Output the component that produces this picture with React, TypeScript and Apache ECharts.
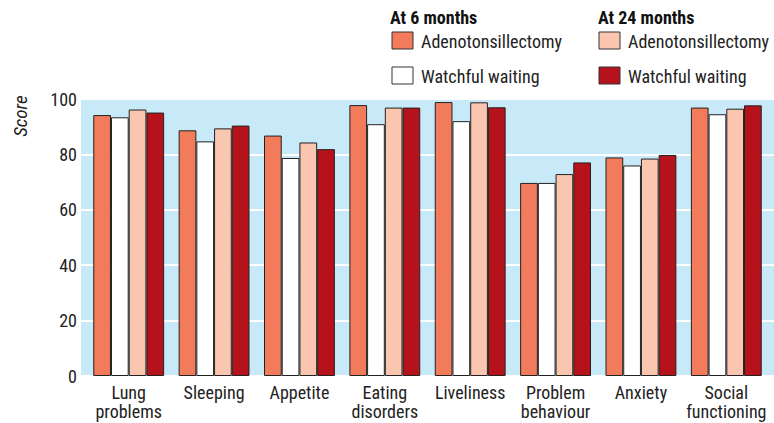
import React, { useEffect, useRef } from "react";
import * as echarts from "echarts";

const categories = [
  "Lung\nproblems",
  "Sleeping",
  "Appetite",
  "Eating\ndisorders",
  "Liveliness",
  "Problem\nbehaviour",
  "Anxiety",
  "Social\nfunctioning",
];
const adeno6 = [94.2, 88.7, 86.8, 97.8, 98.9, 69.7, 78.9, 96.9];
const watch6 = [93.4, 84.7, 78.7, 90.9, 92.0, 69.7, 76.0, 94.5];
const adeno24 = [96.2, 89.4, 84.3, 96.9, 98.8, 72.9, 78.5, 96.5];
const watch24 = [95.1, 90.4, 81.9, 96.9, 97.0, 77.1, 79.8, 97.7];
const yTicks = [0, 20, 40, 60, 80, 100];

const FONT = "'Roboto Condensed', 'Liberation Sans Narrow', sans-serif";
const FS = 18;
const C_A6 = "#f27b5b";
const C_W6 = "#ffffff";
const C_A24 = "#fac6b0";
const C_W24 = "#b5121b";

export default function App() {
  const ref = useRef<HTMLDivElement>(null);
  useEffect(() => {
    if (!ref.current) return;
    const chart = echarts.init(ref.current, null, { renderer: "svg" });
    const mk = (name: string, data: number[], color: string) => ({
      name,
      type: "bar",
      data,
      xAxisIndex: 0,
      yAxisIndex: 0,
      barGap: "0%",
      barCategoryGap: "17%",
      itemStyle: { color, borderColor: "#222", borderWidth: 1 },
    });
    const legendItem = (x: number, y: number, color: string, label: string) => [
      {
        type: "rect",
        shape: { x, y, width: 21, height: 17 },
        style: { fill: color, stroke: "#333", lineWidth: 1 },
      },
      {
        type: "text",
        x: x + 29,
        y: y + 9,
        style: { text: label, font: `${FS}px ${FONT}`, fill: "#222", textVerticalAlign: "middle" },
      },
    ];
    chart.setOption({
      animation: false,
      grid: [
        { left: 86, right: 5, top: 99, bottom: 47, show: false },
        {
          left: 81,
          right: 0,
          top: 99,
          bottom: 47,
          show: true,
          backgroundColor: "#c7e9f8",
          borderWidth: 0,
          z: -1,
        },
      ],
      xAxis: [
        {
          type: "category",
          gridIndex: 0,
          data: categories,
          axisLine: { show: false },
          axisTick: { show: false },
          axisLabel: {
            interval: 0,
            color: "#222",
            fontSize: FS,
            fontFamily: FONT,
            lineHeight: 19,
            margin: 7,
          },
        },
        { type: "value", gridIndex: 1, show: false, min: 0, max: 1 },
      ],
      yAxis: [
        {
          type: "value",
          gridIndex: 0,
          min: 0,
          max: 100,
          interval: 20,
          axisLine: { show: false },
          axisTick: { show: false },
          splitLine: { show: false },
          axisLabel: {
            color: "#222",
            fontSize: FS,
            fontFamily: FONT,
            margin: 9,
            formatter: (v: number) => (yTicks.includes(v) ? String(v) : ""),
          },
        },
        {
          type: "value",
          gridIndex: 1,
          min: 0,
          max: 100,
          interval: 20,
          axisLine: { show: false },
          axisTick: { show: false },
          axisLabel: { show: false },
          splitLine: { show: true, lineStyle: { color: "#ffffff", width: 2 } },
          z: -1,
        },
      ],
      series: [
        mk("Adenotonsillectomy (6 months)", adeno6, C_A6),
        mk("Watchful waiting (6 months)", watch6, C_W6),
        mk("Adenotonsillectomy (24 months)", adeno24, C_A24),
        mk("Watchful waiting (24 months)", watch24, C_W24),
      ],
      graphic: [
        {
          type: "text",
          x: 20,
          y: 116,
          rotation: Math.PI / 2,
          style: {
            text: "Score",
            font: `italic 19px 'Roboto Condensed', 'Liberation Sans', sans-serif`,
            fill: "#222",
            textAlign: "center",
            textVerticalAlign: "middle",
          },
        },
        {
          type: "text",
          x: 390,
          y: 17,
          style: { text: "At 6 months", font: `bold ${FS}px ${FONT}`, fill: "#111", textVerticalAlign: "middle" },
        },
        {
          type: "text",
          x: 598,
          y: 17,
          style: { text: "At 24 months", font: `bold ${FS}px ${FONT}`, fill: "#111", textVerticalAlign: "middle" },
        },
        ...legendItem(392, 32, C_A6, "Adenotonsillectomy"),
        ...legendItem(392, 67, C_W6, "Watchful waiting"),
        ...legendItem(599, 32, C_A24, "Adenotonsillectomy"),
        ...legendItem(599, 67, C_W24, "Watchful waiting"),
      ],
    });
    return () => chart.dispose();
  }, []);
  return (
    <div
      ref={ref}
      style={{ position: "absolute", left: 0, top: 0, width: 774, height: 423 }}
    />
  );
}
